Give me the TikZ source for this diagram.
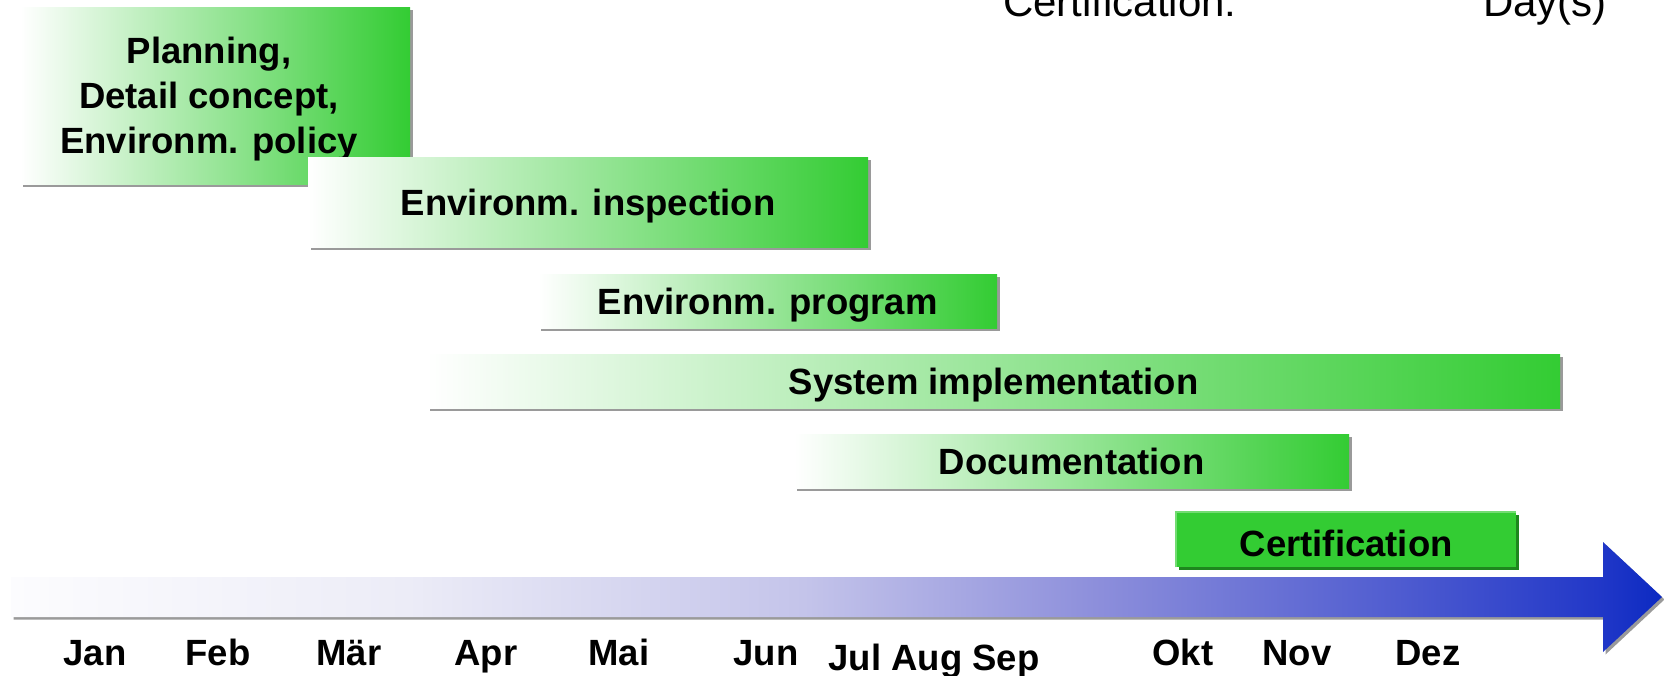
\documentclass[tikz,border=0pt]{standalone}
\usepackage{fontspec}
\setmainfont{Liberation Sans}
\usetikzlibrary{shadows}
\definecolor{barGreen}{HTML}{33CC33}
\definecolor{certLight}{HTML}{72DC72}
\definecolor{certDark}{HTML}{1E871E}
\definecolor{shadowGray}{HTML}{9A9A9A}
\definecolor{axA}{HTML}{FCFCFE}
\definecolor{axB}{HTML}{ECECF7}
\definecolor{axC}{HTML}{C4C4EA}
\definecolor{axD}{HTML}{8C8EDB}
\definecolor{axE}{HTML}{4F5CD0}
\definecolor{axF}{HTML}{2238C8}
\definecolor{axG}{HTML}{0C2AC2}
\pgfdeclarehorizontalshading{timeaxis}{100bp}{color(0bp)=(axA); color(25bp)=(axA); color(37bp)=(axB); color(49bp)=(axC); color(58bp)=(axD); color(67bp)=(axE); color(73bp)=(axF); color(75bp)=(axG); color(100bp)=(axG)}
\newcommand{\barfont}{\fontsize{36.5}{45}\selectfont\bfseries}
\newcommand{\hdrfont}{\fontsize{42}{48}\selectfont}
\newcommand{\dn}[1]{\raisebox{-4pt}[\height][\depth]{#1}}
\tikzset{
  gshadow/.style={drop shadow={shadow xshift=2.5pt, shadow yshift=-2.5pt, opacity=1, fill=#1}},
  gbar/.style={rectangle, inner sep=0pt, anchor=north west, left color=white, right color=barGreen, gshadow=shadowGray, font=\barfont, text=black},
  certbar/.style={rectangle, inner sep=0pt, anchor=north west, fill=barGreen, gshadow=certDark, font=\barfont, text=black},
  lbl/.style={font=\barfont, text=black, align=center, inner sep=0pt},
  month/.style={font=\barfont, text=black, anchor=base, inner sep=0pt},
  hdr/.style={font=\hdrfont, text=black, inner sep=0pt},
}
\begin{document}
\begin{tikzpicture}[x=1pt,y=-1pt]
\useasboundingbox (0,0) rectangle (1664,675);
% header
\node[hdr, anchor=base west] (hdrA) at (1003,16) {Certification:};
\node[hdr, anchor=base east] (hdrB) at (1607,16) {Day(s)};
% bars
\node[gbar, minimum width=390, minimum height=177] (b1) at (20,7) {};
\node[lbl] (t1) at (209,99) {Planning,\\Detail concept,\\Environm. policy};
\node[gbar, minimum width=560, minimum height=90] (b2) at (308,157) {\dn{Environm. inspection}};
\node[gbar, minimum width=459, minimum height=54] (b3) at (538,274) {\dn{Environm. program}};
\node[gbar, minimum width=1133, minimum height=54] (b4) at (427,354) {\dn{System implementation}};
\node[gbar, minimum width=555, minimum height=54] (b5) at (794,434) {Documentation};
\node[certbar, minimum width=340, minimum height=55] (b6) at (1176,512) {\dn{Certification}};
\draw[certLight, line width=1.5pt] (b6.south west) -- (b6.north west) -- (b6.north east);
% time axis
\path[shading=timeaxis, gshadow=shadowGray] (11,577) -- (1603,577) -- (1603,542) -- (1662,597) -- (1603,652) -- (1603,617) -- (11,617) -- cycle;
% months
\node[month] (mJan) at (95,665) {Jan};
\node[month] (mFeb) at (218,665) {Feb};
\node[month] (mMar) at (349,665) {Mär};
\node[month] (mApr) at (486,665) {Apr};
\node[month] (mMai) at (619,665) {Mai};
\node[month] (mJun) at (766,665) {Jun};
\node[month] (mJAS) at (934,670) {Jul Aug Sep};
\node[month] (mOkt) at (1183,665) {Okt};
\node[month] (mNov) at (1297,665) {Nov};
\node[month] (mDez) at (1428,665) {Dez};
\end{tikzpicture}
\end{document}
